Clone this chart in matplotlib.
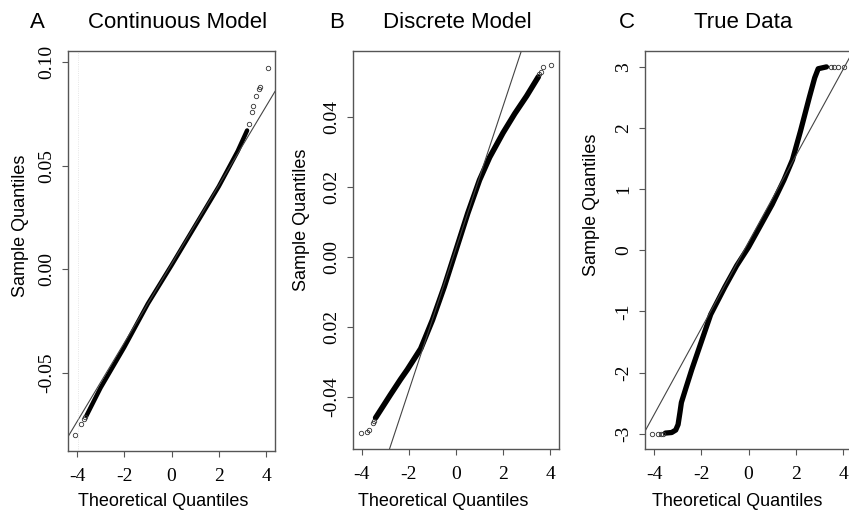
import matplotlib
matplotlib.use("Agg")
from matplotlib import pyplot as plt

# Datos (cuantil teorico, cuantil muestral)
# A: modelo continuo
a_x = [-3.6, -3.0, -2.0, -1.0, 0.0, 1.0, 2.0, 2.8, 3.2]
a_y = [-0.0705, -0.057, -0.0375, -0.0165, 0.002, 0.021, 0.040, 0.057, 0.067]
a_tail_x = [-4.07, -3.81, -3.72, -3.66, 3.3, 3.4, 3.47, 3.56, 3.69, 3.75, 4.07]
a_tail_y = [-0.0798, -0.0745, -0.0722, -0.0712, 0.070, 0.076, 0.079, 0.0837, 0.087, 0.088, 0.097]
a_line = [0.0026, 0.019]  # intercepto, pendiente

# B: modelo discreto
b_x = [-3.42, -3.2, -2.8, -2.36, -2.07, -1.5, -1.0, -0.5, 0.0, 0.5, 1.0, 1.43, 2.0, 2.5, 3.0, 3.5]
b_y = [-0.046, -0.0437, -0.0395, -0.035, -0.0322, -0.0262, -0.018, -0.0085, 0.002, 0.0125,
       0.022, 0.0285, 0.0355, 0.041, 0.046, 0.0515]
b_tail_x = [-4.05, -3.8, -3.72, -3.54, -3.48, 3.55, 3.6, 3.71, 4.05]
b_tail_y = [-0.0503, -0.050, -0.0495, -0.0474, -0.047, 0.0522, 0.053, 0.0543, 0.0549]
b_line = [0.0025, 0.0203]

# C: datos reales
c_x = [-3.52, -3.25, -3.08, -2.98, -2.9, -2.84, -2.63, -2.4, -2.0, -1.6, -1.0, -0.5, 0.0, 0.5,
       1.0, 1.5, 1.86, 2.2, 2.58, 2.8, 2.95, 3.3]
c_y = [-2.99, -2.98, -2.94, -2.85, -2.65, -2.49, -2.23, -1.95, -1.5, -1.05, -0.6, -0.25, 0.05, 0.4,
       0.75, 1.15, 1.48, 1.95, 2.51, 2.82, 2.97, 3.0]
c_tail_x = [-4.07, -3.81, -3.69, -3.6, 3.5, 3.6, 3.77, 4.03]
c_tail_y = [-3.0, -3.0, -3.0, -3.0, 3.0, 3.0, 3.0, 3.0]
c_line = [0.133, 0.706]

x_ticks = [-4, -2, 0, 2, 4]
a_ticks = [-0.05, 0.00, 0.05, 0.10]
a_labels = ["-0.05", "0.00", "0.05", "0.10"]
b_ticks = [-0.04, -0.02, 0.00, 0.02, 0.04]
b_labels = ["-0.04", "0.02", "0.00", "0.02", "0.04"]
c_ticks = [-3, -2, -1, 0, 1, 2, 3]
c_labels = ["-3", "-2", "-1", "0", "1", "2", "3"]

W, H = 849, 514
fig = plt.figure(figsize=(W / 100, H / 100), dpi=100)

sans = "Liberation Sans"
serif = "Liberation Serif"


def caja(px_left, px_top, px_right, px_bottom):
    return [px_left / W, 1 - px_bottom / H, (px_right - px_left) / W, (px_bottom - px_top) / H]


paneles = [
    dict(pos=caja(68, 51, 275, 451), x=a_x, y=a_y, tx=a_tail_x, ty=a_tail_y, line=a_line,
         ylim=(-0.0875, 0.1053), ticks=a_ticks, labels=a_labels, lw=3.2),
    dict(pos=caja(353, 51, 559, 449), x=b_x, y=b_y, tx=b_tail_x, ty=b_tail_y, line=b_line,
         ylim=(-0.0549, 0.0589), ticks=b_ticks, labels=b_labels, lw=4.0),
    dict(pos=caja(645, 51, 852, 449), x=c_x, y=c_y, tx=c_tail_x, ty=c_tail_y, line=c_line,
         ylim=(-3.25, 3.26), ticks=c_ticks, labels=c_labels, lw=3.8),
]

xlim = (-4.38, 4.38)
for p in paneles:
    ax = fig.add_axes(p["pos"])
    ax.plot(p["x"], p["y"], color="black", lw=p["lw"], solid_capstyle="round",
            solid_joinstyle="round")
    ax.plot(p["tx"], p["ty"], ls="none", marker="o", ms=3.2, mfc="none", mec="#333333", mew=0.6)
    b0, b1 = p["line"]
    ax.plot(xlim, [b0 + b1 * xlim[0], b0 + b1 * xlim[1]], color="#444444", lw=0.8)
    ax.set_xlim(xlim)
    ax.set_ylim(p["ylim"])
    ax.set_xticks(x_ticks)
    ax.set_xticklabels([str(t) for t in x_ticks], fontfamily=serif, fontsize=14)
    ax.set_yticks(p["ticks"])
    ax.set_yticklabels(p["labels"], fontfamily=serif, fontsize=14, rotation=90, va="center")
    ax.tick_params(axis="x", direction="out", length=4, width=0.8, color="#555555", pad=8)
    ax.tick_params(axis="y", direction="out", length=4, width=0.8, color="#555555", pad=5)
    for s in ax.spines.values():
        s.set_color("#555555")
        s.set_linewidth(1.0)

# linea punteada tenue en el panel A
fig.axes[0].axvline(-3.95, color="#dddddd", lw=0.6, ls=":")

# titulos y etiquetas
for letra, lx, titulo, tx in [("A", 37, "Continuous Model", 178),
                              ("B", 337, "Discrete Model", 457),
                              ("C", 627, "True Data", 743)]:
    fig.text(lx / W, 1 - 22 / H, letra, fontfamily=sans, fontsize=16, ha="center", va="center")
    fig.text(tx / W, 1 - 22 / H, titulo, fontfamily=sans, fontsize=16, ha="center", va="center")

for cx in [163, 443, 737]:
    fig.text(cx / W, 1 - 502 / H, "Theoretical Quantiles", fontfamily=sans, fontsize=13,
             ha="center", va="center")

for cx, cy in [(21, 226), (302, 220), (592, 205)]:
    fig.text(cx / W, 1 - cy / H, "Sample Quantiles", fontfamily=sans, fontsize=13,
             ha="center", va="center", rotation=90)

plt.savefig("out.png", dpi=100)
